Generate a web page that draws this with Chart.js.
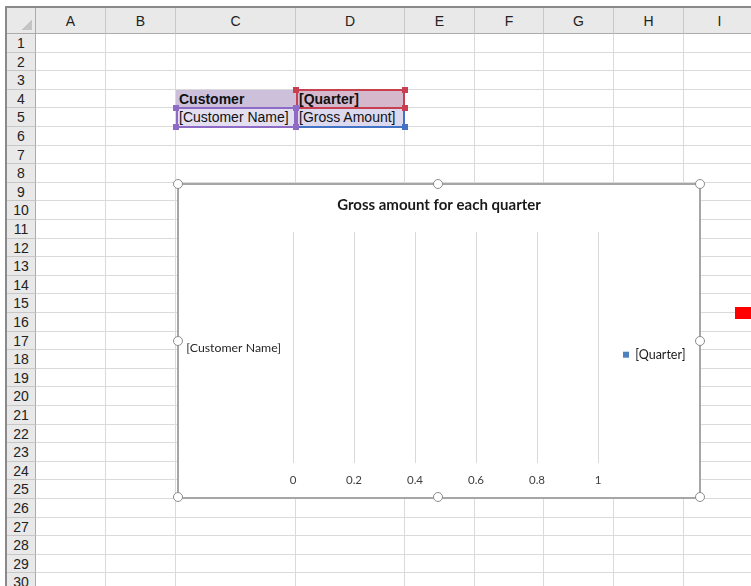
<!DOCTYPE html>
<html>
<head>
<meta charset="utf-8">
<script src="https://cdn.jsdelivr.net/npm/chart.js@4.4.0/dist/chart.umd.min.js"></script>
<style>
  body { margin: 0; width: 751px; height: 586px; overflow: hidden; background: #fff; position: relative;
         font-family: "Liberation Sans", Arial, sans-serif; }
  .abs { position: absolute; box-sizing: border-box; }
  .hdr { background: #e9e9e9; color: #222; font-size: 14px; text-align: center; }
  .cell { font-size: 14px; color: #111; white-space: nowrap; overflow: hidden; padding-left: 3px; line-height: 18px; }
  .handle { position: absolute; width: 10px; height: 10px; border-radius: 50%; background: #fff;
            border: 1.5px solid #8c8c8c; box-sizing: border-box; }
  #chartBox { position: absolute; left: 178px; top: 184px; width: 522px; height: 314px; background: #fff; }
  #chartFrame { position: absolute; left: 177px; top: 183px; width: 524px; height: 316px; border: 2px solid #a6a6a6; box-sizing: border-box; }
</style>
</head>
<body>
<div id="sheet"></div>
<div id="chartBox"><canvas id="chart" width="522" height="314"></canvas></div>
<div id="chartFrame"></div>
<div id="handles"></div>
<script>
// chart data
const categories = ['[Customer Name]'];
const seriesName = '[Quarter]';
const seriesValues = [null];          // template placeholder, no values yet
const xTicks = [0, 0.2, 0.4, 0.6, 0.8, 1];
const chartTitle = 'Gross amount for each quarter';

// sheet layout
const colNames = ['A', 'B', 'C', 'D', 'E', 'F', 'G', 'H', 'I'];
const colEdges = [36, 106, 176, 296, 405, 475, 544, 614, 684, 756];
const rowTop = 34, rowH = 18.6, rowCount = 30;

const sheet = document.getElementById('sheet');
function box(x, y, w, h, cls, style, text) {
    const d = document.createElement('div');
    d.className = 'abs ' + (cls || '');
    d.style.left = x + 'px'; d.style.top = y + 'px';
    d.style.width = w + 'px'; d.style.height = h + 'px';
    if (style) d.style.cssText += style;
    if (text) d.textContent = text;
    sheet.appendChild(d);
    return d;
}

// grid lines
for (let r = 1; r <= rowCount; r++) {
    box(36, rowTop + r * rowH - 1, 720, 1, '', 'background:#dadada');
}
for (let c = 1; c < colEdges.length; c++) {
    box(colEdges[c] - 1, 34, 1, 560, '', 'background:#dadada');
}

// cells
box(176, 89.8, 120, 18.6, 'cell', 'background:#ccc0da;font-weight:bold', 'Customer');
box(296, 89.8, 109, 18.6, 'cell', 'background:#d5b8cc;font-weight:bold', '[Quarter]');
box(176, 108.4, 120, 18.6, 'cell', 'background:#e4dff0', '[Customer Name]');
box(296, 108.4, 109, 18.6, 'cell', 'background:#dcd9ef', '[Gross Amount]');
// selection frames
box(176, 107.4, 120, 20.6, '', 'border:2px solid #8e6bc4');
box(296, 89, 109, 20, '', 'border:2px solid #c8404f');
box(296, 107.5, 109, 20.5, '', 'border-bottom:2px solid #4472c4;border-right:2px solid #4472c4;border-left:2px solid #8e6bc4');
[[176, 108], [176, 127], [296, 108], [296, 127]].forEach(p => box(p[0] - 3, p[1] - 3, 6, 6, '', 'background:#8e6bc4'));
[[296, 90], [405, 90], [405, 108]].forEach(p => box(p[0] - 3, p[1] - 3, 6, 6, '', 'background:#c8404f'));
box(402, 124, 6, 6, '', 'background:#4472c4');

// headers
box(7, 8, 749, 26, 'hdr', 'border-bottom:1px solid #ababab');
box(7, 8, 29, 580, 'hdr', 'border-right:1px solid #ababab');
box(7, 8, 29, 26, '', 'background:#e9e9e9;border-right:1px solid #ababab;border-bottom:1px solid #ababab');
box(22, 20, 10, 10, '', 'background:linear-gradient(135deg,transparent 50%,#c4c4c4 50%)');
colNames.forEach((n, i) => {
    box(colEdges[i], 8, colEdges[i + 1] - colEdges[i], 26, 'hdr',
        'line-height:26px;border-right:1px solid #c8c8c8;border-bottom:1px solid #ababab', n);
});
for (let r = 1; r <= rowCount; r++) {
    box(7, rowTop + (r - 1) * rowH, 29, rowH, 'hdr',
        'line-height:19px;border-bottom:1px solid #c8c8c8;border-right:1px solid #ababab', String(r));
}
box(5, 6, 751, 2, '', 'background:#8a8a8a');
box(5, 6, 2, 580, '', 'background:#8a8a8a');

// stray red marker on the right
box(735, 307, 16, 12, '', 'background:#ff0000');

// chart handles
const hs = document.getElementById('handles');
[[178, 184], [438, 184], [700, 184], [178, 341], [700, 341], [178, 497], [438, 497], [700, 497]].forEach(p => {
    const h = document.createElement('div');
    h.className = 'handle';
    h.style.left = (p[0] - 5) + 'px'; h.style.top = (p[1] - 5) + 'px';
    hs.appendChild(h);
});

// chart
const chartFont = '"Lato", "Open Sans", sans-serif';
new Chart(document.getElementById('chart'), {
    type: 'bar',
    data: {
        labels: categories,
        datasets: [{
            label: seriesName,
            data: seriesValues,
            backgroundColor: '#4f81bd',
            borderWidth: 0
        }]
    },
    options: {
        indexAxis: 'y',
        responsive: false,
        animation: false,
        devicePixelRatio: 1,
        layout: { padding: { left: 9, right: 9, top: 0, bottom: 1 } },
        plugins: {
            title: {
                display: true,
                text: chartTitle,
                color: '#1a1a1a',
                font: { family: chartFont, size: 15, weight: 'bold' },
                padding: { top: 12, bottom: 18 }
            },
            legend: {
                position: 'right',
                maxWidth: 93,
                // empty legend title only pushes the entry down a bit, like Excel
                title: { display: true, text: ' ', padding: 7, font: { size: 12 } },
                labels: {
                    boxWidth: 6,
                    boxHeight: 6,
                    padding: 25,
                    color: '#1a1a1a',
                    font: { family: chartFont, size: 12.5 }
                }
            },
            tooltip: { enabled: false }
        },
        scales: {
            x: {
                min: 0,
                max: 1,
                afterBuildTicks: s => { s.ticks = xTicks.map(v => ({ value: v })); },
                ticks: {
                    color: '#404040',
                    padding: 10,
                    font: { family: chartFont, size: 11.5 },
                    callback: v => String(v)
                },
                grid: { color: '#d9d9d9', drawTicks: false },
                border: { display: false }
            },
            y: {
                afterFit: s => { s.width = 106; },
                ticks: {
                    color: '#262626',
                    padding: 12,
                    font: { family: chartFont, size: 12.3 }
                },
                grid: { display: false, drawTicks: false },
                border: { display: false }
            }
        }
    }
});
</script>
</body>
</html>
